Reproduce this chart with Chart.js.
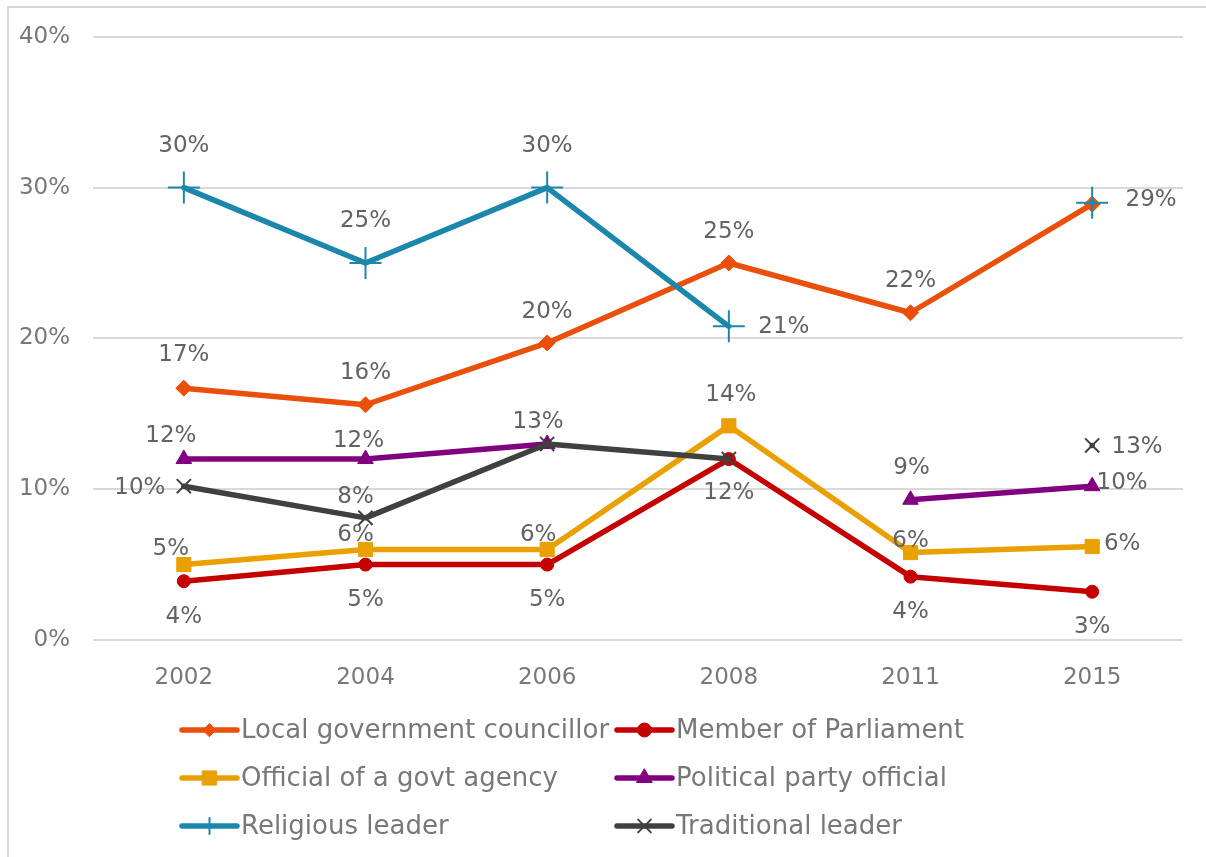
<!DOCTYPE html>
<html>
<head>
<meta charset="utf-8">
<title>Contact with leaders</title>
<script src="https://cdn.jsdelivr.net/npm/chart.js@4/dist/chart.umd.min.js"></script>
<style>
  html, body { margin: 0; padding: 0; background: #fff; overflow: hidden; }
  #wrap { width: 1206px; height: 857px; }
</style>
</head>
<body>
<div id="wrap"><canvas id="leaderChart" width="1206" height="857"></canvas></div>
<script>
// Survey years and the share (%) reporting contact with each kind of leader
const years = ['2002', '2004', '2006', '2008', '2011', '2015'];
const localCouncillor = [16.7, 15.6, 19.7, 25.0, 21.7, 28.9];
const memberOfParliament = [3.9, 5.0, 5.0, 12.0, 4.2, 3.2];
const govtOfficial = [5.0, 6.0, 6.0, 14.2, 5.8, 6.2];
const partyOfficial = [12.0, 12.0, 13.0, null, 9.3, 10.2];
const religiousLeader = [30.0, 25.0, 30.0, 20.8, null, 29.0];
const traditionalLeader = [10.2, 8.1, 13.0, 12.0, null, 12.9];

const FONT = '"DejaVu Sans", "Liberation Sans", sans-serif';
const TEXT_GREY = '#787878';
const LABEL_GREY = '#636363';

// where each value label sits relative to its point ([dx, dy], null = no label)
const LABELS_ABOVE = [[0, -33], [0, -32], [0, -31], [0, -31], [0, -32], [59, -4]];

function makeSeries(label, data, color, marker, labelAt) {
    return {
        label: label,
        data: data,
        borderColor: color,
        backgroundColor: color,
        borderWidth: 5.5,
        borderJoinStyle: 'round',
        borderCapStyle: 'round',
        pointStyle: marker.shape,
        pointRadius: marker.radius,
        pointBorderWidth: marker.border,
        pointBackgroundColor: color,
        pointBorderColor: color,
        legendRadius: marker.legendRadius,
        labelAt: labelAt,
        spanGaps: false
    };
}

const datasets = [
    makeSeries('Local government councillor', localCouncillor, '#EA4F0B',
        { shape: 'rectRot', radius: 8, border: 1, legendRadius: 6.5 },
        LABELS_ABOVE),
    makeSeries('Member of Parliament', memberOfParliament, '#C40000',
        { shape: 'circle', radius: 6.5, border: 1, legendRadius: 7 },
        [[0, 36], [0, 35], [0, 35], [0, 34], [0, 35], [0, 35]]),
    makeSeries('Official of a govt agency', govtOfficial, '#E9A000',
        { shape: 'rect', radius: 10, border: 1, legendRadius: 10 },
        [[-13, -16], [-10, -14], [-9, -14], [2, -31], [0, -12], [30, -2]]),
    makeSeries('Political party official', partyOfficial, '#800080',
        { shape: 'triangle', radius: 9, border: 1, legendRadius: 9 },
        [[-13, -23], [-7, -18], [-9, -22], null, [1, -32], [30, -3]]),
    makeSeries('Religious leader', religiousLeader, '#1A87AB',
        { shape: 'cross', radius: 16, border: 2, legendRadius: 8 },
        [[0, -42], [0, -42], [0, -42], [55, 1], null, null]),
    makeSeries('Traditional leader', traditionalLeader, '#404040',
        { shape: 'crossRot', radius: 10, border: 2, legendRadius: 9 },
        [[-44, 2], [-10, -21], null, null, null, [45, 2]])
];

// later series are painted over earlier ones
datasets.forEach((ds, i) => { ds.order = datasets.length - i; });

// light frame along the left and top edges
const framePlugin = {
    id: 'frame',
    beforeDraw(chart) {
        const ctx = chart.ctx;
        ctx.save();
        ctx.fillStyle = '#ffffff';
        ctx.fillRect(0, 0, chart.width, chart.height);
        ctx.strokeStyle = '#d9d9d9';
        ctx.lineWidth = 2;
        ctx.beginPath();
        ctx.moveTo(8, chart.height);
        ctx.lineTo(8, 7);
        ctx.lineTo(chart.width, 7);
        ctx.stroke();
        ctx.restore();
    }
};

// percentage text next to each point
const valueLabelPlugin = {
    id: 'valueLabels',
    afterDatasetsDraw(chart) {
        const ctx = chart.ctx;
        ctx.save();
        ctx.font = '23px ' + FONT;
        ctx.fillStyle = LABEL_GREY;
        ctx.textAlign = 'center';
        ctx.textBaseline = 'middle';
        chart.data.datasets.forEach((ds, i) => {
            const meta = chart.getDatasetMeta(i);
            meta.data.forEach((pt, j) => {
                const value = ds.data[j];
                const off = ds.labelAt[j];
                if (value === null || !off) return;
                ctx.fillText(Math.round(value) + '%', pt.x + off[0], pt.y + off[1]);
            });
        });
        ctx.restore();
    }
};

// two-column legend under the plot, line sample with marker
const gridLegendPlugin = {
    id: 'gridLegend',
    afterDraw(chart) {
        const ctx = chart.ctx;
        const cols = [182, 617];
        const rows = [730, 778, 826];
        const lineLen = 55;
        chart.data.datasets.forEach((ds, i) => {
            const x = cols[i % 2];
            const y = rows[Math.floor(i / 2)];
            ctx.save();
            ctx.strokeStyle = ds.borderColor;
            ctx.lineWidth = 5.5;
            ctx.lineCap = 'round';
            ctx.beginPath();
            ctx.moveTo(x, y);
            ctx.lineTo(x + lineLen, y);
            ctx.stroke();

            ctx.fillStyle = ds.borderColor;
            ctx.lineWidth = ds.pointBorderWidth;
            Chart.helpers.drawPoint(ctx, {
                pointStyle: ds.pointStyle,
                radius: ds.legendRadius,
                borderWidth: ds.pointBorderWidth,
                rotation: 0
            }, x + lineLen / 2, y);

            ctx.fillStyle = TEXT_GREY;
            ctx.font = '26px ' + FONT;
            ctx.textAlign = 'left';
            ctx.textBaseline = 'middle';
            ctx.fillText(ds.label, x + lineLen + 4, y + 1);
            ctx.restore();
        });
    }
};

const ctx = document.getElementById('leaderChart').getContext('2d');
new Chart(ctx, {
    type: 'line',
    data: { labels: years, datasets: datasets },
    options: {
        responsive: false,
        animation: false,
        events: [],
        layout: { padding: { left: 0, right: 23, top: 36, bottom: 0 } },
        plugins: {
            legend: { display: false },
            tooltip: { enabled: false }
        },
        scales: {
            x: {
                offset: true,
                grid: { display: false, drawTicks: false },
                border: { display: false },
                ticks: {
                    color: TEXT_GREY,
                    font: { family: FONT, size: 23 },
                    padding: 24,
                    maxRotation: 0
                },
                afterFit(scale) { scale.height = 217; }
            },
            y: {
                min: 0,
                max: 40,
                grid: { color: '#d9d9d9', lineWidth: 2, drawTicks: false },
                border: { display: false },
                ticks: {
                    stepSize: 10,
                    color: TEXT_GREY,
                    font: { family: FONT, size: 23 },
                    padding: 23,
                    callback: (v) => v + '%'
                },
                afterFit(scale) { scale.width = 93; }
            }
        }
    },
    plugins: [framePlugin, valueLabelPlugin, gridLegendPlugin]
});
</script>
</body>
</html>
